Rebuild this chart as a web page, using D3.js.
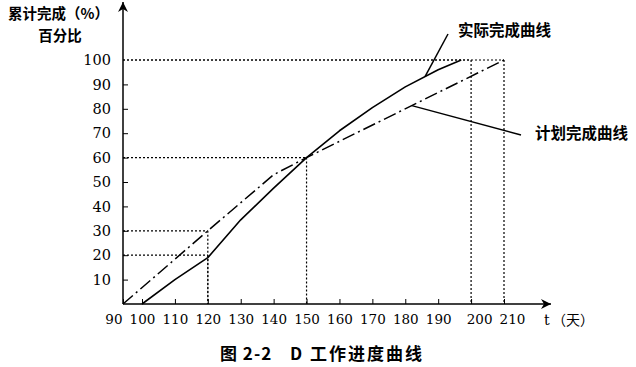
<!DOCTYPE html>
<html>
<head>
<meta charset="utf-8">
<script src="https://cdn.jsdelivr.net/npm/d3@7"></script>
<style>
  body { margin: 0; background: #fff; }
  .tick text { font-family: "DejaVu Serif", serif; fill: #000; }
  .cjk { font-family: "Noto Sans CJK SC", sans-serif; font-weight: bold; fill: #000; }
</style>
</head>
<body>
<svg width="636" height="367"></svg>
<script>
// x axis ticks (days) and y axis ticks (percent)
var xTicks = [90, 100, 110, 120, 130, 140, 150, 160, 170, 180, 190, 200, 210];
var yTicks = [10, 20, 30, 40, 50, 60, 70, 80, 90, 100];

// actual completion (solid)
var actualDays = [100, 110, 120, 130, 140, 150, 160, 170, 180, 190, 197];
var actualPct  = [0, 10, 19, 34.5, 47.5, 60, 71, 80.5, 89, 96, 100];

// planned completion (dash-dot)
var planDays = [90, 120, 140, 150, 210];
var planPct  = [0, 30, 53, 60, 100];

// dotted reference points [day, pct]
var marks = [[120, 30], [120, 20], [150, 60], [200, 100], [210, 100]];

var svg = d3.select("svg");

// the 90-100 step is drawn shorter than the rest
var x = d3.scaleLinear().domain([90, 100, 210]).range([123, 142, 504]);
var y = d3.scaleLinear().domain([0, 100]).range([304, 60]);

var defs = svg.append("defs");
defs.append("marker")
	.attr("id", "arrow")
	.attr("viewBox", "0 0 10 10")
	.attr("refX", 10).attr("refY", 5)
	.attr("markerWidth", 14).attr("markerHeight", 10)
	.attr("markerUnits", "userSpaceOnUse")
	.attr("orient", "auto")
	.append("path")
	.attr("d", "M0,0 L10,5 L0,10 L3,5 Z")
	.attr("fill", "#000");

// dotted guide lines
var guides = svg.append("g")
	.attr("stroke", "#000")
	.attr("stroke-width", 1.2)
	.attr("stroke-dasharray", "2,2");

marks.forEach(function (m) {
	guides.append("line")
		.attr("x1", x(90)).attr("x2", x(m[0]))
		.attr("y1", y(m[1])).attr("y2", y(m[1]));
	guides.append("line")
		.attr("x1", x(m[0])).attr("x2", x(m[0]))
		.attr("y1", y(m[1])).attr("y2", y(0));
});

// axes
var yAxis = svg.append("g")
	.attr("transform", "translate(" + x(90) + ",0)")
	.call(d3.axisLeft(y).tickValues(yTicks).tickSizeInner(-5).tickSizeOuter(0).tickPadding(12));
yAxis.select(".domain").remove();
yAxis.selectAll(".tick text").style("font-size", "14.5px");
yAxis.selectAll(".tick line").filter(function (d) { return d == 100; }).remove();

var xAxis = svg.append("g")
	.attr("transform", "translate(0," + y(0) + ")")
	.call(d3.axisBottom(x).tickValues(xTicks).tickSizeInner(-5).tickSizeOuter(0).tickPadding(10));
xAxis.select(".domain").remove();
xAxis.selectAll(".tick text").style("font-size", "13.5px");
xAxis.selectAll(".tick").filter(function (d) { return d == 90; })
	.select("text").attr("text-anchor", "end").attr("x", -1);
xAxis.selectAll(".tick").filter(function (d) { return d >= 200; })
	.select("text").attr("x", 8);

svg.append("line")
	.attr("x1", x(90)).attr("y1", y(0))
	.attr("x2", x(90)).attr("y2", 2)
	.attr("stroke", "#000").attr("stroke-width", 1.5)
	.attr("marker-end", "url(#arrow)");
svg.append("line")
	.attr("x1", x(90)).attr("y1", y(0))
	.attr("x2", 551).attr("y2", y(0))
	.attr("stroke", "#000").attr("stroke-width", 1.5)
	.attr("marker-end", "url(#arrow)");

// curves
var line = d3.line()
	.x(function (d) { return x(d[0]); })
	.y(function (d) { return y(d[1]); });

svg.append("path")
	.datum(d3.zip(planDays, planPct))
	.attr("d", line)
	.attr("fill", "none")
	.attr("stroke", "#000")
	.attr("stroke-width", 1.5)
	.attr("stroke-dasharray", "13,4,2,4");

svg.append("path")
	.datum(d3.zip(actualDays, actualPct))
	.attr("d", line)
	.attr("fill", "none")
	.attr("stroke", "#000")
	.attr("stroke-width", 1.6)
	.attr("stroke-linejoin", "round");

// leader lines to the curve names
svg.append("line")
	.attr("x1", x(186)).attr("y1", y(93.2))
	.attr("x2", 448).attr("y2", 34)
	.attr("stroke", "#000").attr("stroke-width", 1.5);
svg.append("line")
	.attr("x1", x(182)).attr("y1", y(81.3))
	.attr("x2", 521).attr("y2", 135)
	.attr("stroke", "#000").attr("stroke-width", 1.5);

svg.append("text").attr("class", "cjk")
	.attr("x", 458).attr("y", 36).style("font-size", "15.5px")
	.text("实际完成曲线");
svg.append("text").attr("class", "cjk")
	.attr("x", 535).attr("y", 139).style("font-size", "15.5px")
	.text("计划完成曲线");

// axis titles
svg.append("text").attr("class", "cjk")
	.attr("x", 8).attr("y", 19).style("font-size", "14.5px")
	.text("累计完成（%）");
svg.append("text").attr("class", "cjk")
	.attr("x", 60).attr("y", 41).attr("text-anchor", "middle").style("font-size", "14.5px")
	.text("百分比");
svg.append("text")
	.attr("x", 544).attr("y", 325)
	.style("font-family", "DejaVu Serif, serif").style("font-size", "14px")
	.text("t");
svg.append("text").attr("class", "cjk")
	.attr("x", 552).attr("y", 325).style("font-size", "14px").style("font-weight", "normal")
	.text("（天）");

// caption
svg.append("text").attr("class", "cjk")
	.attr("x", 220).attr("y", 360).style("font-size", "17px")
	.style("letter-spacing", "1px")
	.text("图 2-2");
svg.append("text").attr("class", "cjk")
	.attr("x", 290).attr("y", 360).style("font-size", "17px")
	.style("letter-spacing", "2px")
	.text("D 工作进度曲线");
</script>
</body>
</html>
